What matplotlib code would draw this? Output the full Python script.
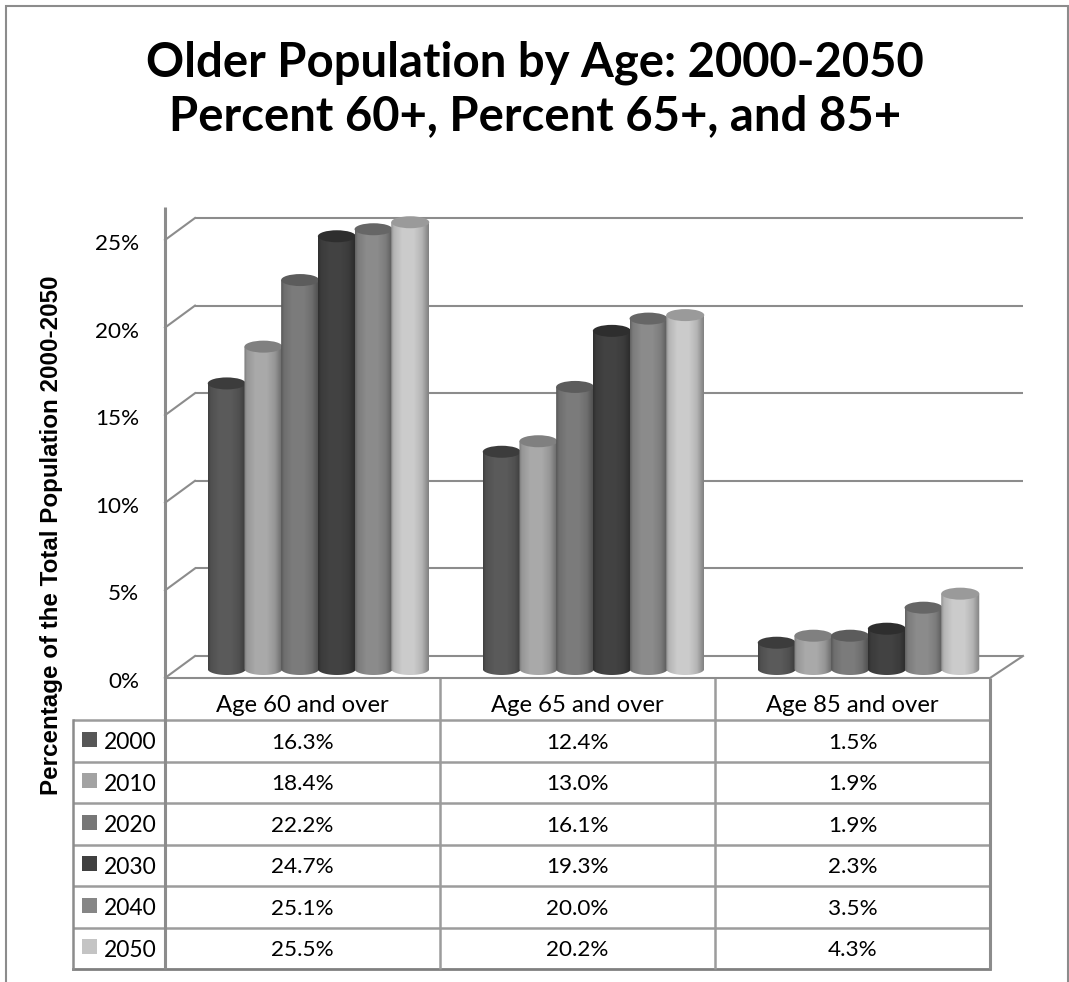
#!/usr/bin/env python3
import numpy as np
import matplotlib
matplotlib.use("Agg")
import matplotlib.pyplot as plt
from matplotlib.patches import Polygon, Ellipse, Rectangle

CATEGORIES = ["Age 60 and over", "Age 65 and over", "Age 85 and over"]
YEARS = ["2000", "2010", "2020", "2030", "2040", "2050"]
VALUES_2000 = [16.3, 12.4, 1.5]
VALUES_2010 = [18.4, 13.0, 1.9]
VALUES_2020 = [22.2, 16.1, 1.9]
VALUES_2030 = [24.7, 19.3, 2.3]
VALUES_2040 = [25.1, 20.0, 3.5]
VALUES_2050 = [25.5, 20.2, 4.3]
SERIES = [VALUES_2000, VALUES_2010, VALUES_2020, VALUES_2030, VALUES_2040, VALUES_2050]
Y_TICKS = [0, 5, 10, 15, 20, 25]

SHADES = ["#575757", "#a3a3a3", "#777777", "#404040", "#868686", "#c4c4c4"]
TOPS = ["#3c3c3c", "#808080", "#5c5c5c", "#2e2e2e", "#666666", "#9a9a9a"]
LINE = "#8c8c8c"

W, H = 1069, 982
PX_PCT = 17.52   # pixels per percentage point
PX_CAT = 275.0   # pixels per category
FLOOR_Y = 669    # pixel row of the 0% level under the cylinders

plt.rcParams["font.family"] = ["Lato", "DejaVu Sans"]


def shaded(hex_color):
    # left-to-right lighting across a cylinder
    base = np.array(matplotlib.colors.to_rgb(hex_color))
    t = np.linspace(0, 1, 64)
    f = np.interp(t, [0, 0.07, 0.3, 0.6, 0.82, 1], [0.74, 0.92, 1.04, 1.04, 0.92, 0.66])
    return np.clip(base[None, None, :] * f[None, :, None], 0, 1)


def draw_cylinder(ax, xc, value, width, color, top):
    rx = width / 2
    ry = 6 / PX_PCT
    ang = np.linspace(np.pi, 2 * np.pi, 40)
    bottom = np.column_stack([xc + rx * np.cos(ang), ry * np.sin(ang)])
    pts = np.vstack([bottom, [[xc + rx, value], [xc - rx, value]]])
    body = Polygon(pts, closed=True, transform=ax.transData, facecolor="none", edgecolor="none")
    ax.add_patch(body)
    im = ax.imshow(shaded(color), extent=[xc - rx, xc + rx, -ry, value], aspect="auto", zorder=3)
    im.set_clip_path(body)
    ax.add_patch(Ellipse((xc, value), width, 2 * ry, facecolor=top, edgecolor="none", zorder=3))


def main():
    fig = plt.figure(figsize=(W / 100, H / 100), dpi=100, facecolor="white")

    # pixel-space layer for the frame, title, and data table
    bg = fig.add_axes([0, 0, 1, 1])
    bg.set_xlim(0, W)
    bg.set_ylim(H, 0)
    bg.axis("off")

    bg.plot([5.5, 5.5, 1068, 1068], [H, 5.5, 5.5, H], color=LINE, lw=1.5, solid_joinstyle="miter")
    bg.text(535, 63, "Older Population by Age: 2000-2050", ha="center", va="center",
            fontsize=34, fontweight="bold", color="black")
    bg.text(535, 116, "Percent 60+, Percent 65+, and 85+", ha="center", va="center",
            fontsize=34, fontweight="bold", color="black")
    bg.text(52, 535, "Percentage of the Total Population 2000-2050", rotation=90,
            ha="center", va="center", fontsize=17.4, fontweight="bold",
            family=["Liberation Sans"], color="black")

    # table
    col_x = [165, 440, 715, 990]
    row_y = [720 + 41.5 * i for i in range(len(YEARS) + 1)]
    for y in row_y[:-1]:
        bg.plot([73, 990], [y, y], color="#9c9c9c", lw=1.8, solid_capstyle="butt")
    bg.plot([73, 990], [row_y[-1]] * 2, color="#808080", lw=2, solid_capstyle="projecting")
    bg.plot([73, 73], [row_y[0], row_y[-1]], color="#8c8c8c", lw=1.8)
    bg.plot([164.5, 164.5], [207, row_y[-1]], color=LINE, lw=2.2, solid_capstyle="butt")
    for x in col_x[1:3]:
        bg.plot([x, x], [678, row_y[-1]], color="#9c9c9c", lw=1.8, solid_capstyle="butt")
    bg.plot([990, 990], [678, row_y[-1]], color="#8c8c8c", lw=2.2, solid_capstyle="butt")

    for j, cat in enumerate(CATEGORIES):
        bg.text((col_x[j] + col_x[j + 1]) / 2, 704, cat, ha="center", va="center_baseline",
                fontsize=17.2, color="black")
    for i, year in enumerate(YEARS):
        cy = (row_y[i] + row_y[i + 1]) / 2
        bg.add_patch(Rectangle((82, cy - 9), 15, 15, facecolor=SHADES[i], edgecolor="none"))
        bg.text(104, cy, year, ha="left", va="center_baseline", fontsize=16.5, color="black")
        for j in range(len(CATEGORIES)):
            bg.text((col_x[j] + col_x[j + 1]) / 2, cy, f"{SERIES[i][j]:.1f}%",
                    ha="center", va="center_baseline", fontsize=16.2, color="black")

    # value layer: x is the category index, y is percent of population
    top_y = 207
    bottom_y = 695
    ax = fig.add_axes([165 / W, (H - bottom_y) / H, 825 / W, (bottom_y - top_y) / H])
    ax.patch.set_alpha(0)
    ax.axis("off")
    xlim = (-0.5, 2.5)
    ylim = ((FLOOR_Y - bottom_y) / PX_PCT, (FLOOR_Y - top_y) / PX_PCT)

    back_dx, back_dy = 30 / PX_CAT, 13 / PX_PCT
    front_dy = -9 / PX_PCT
    left, right = xlim
    for tick in Y_TICKS:
        ax.plot([left + back_dx, right + 33 / PX_CAT], [tick + back_dy] * 2, color=LINE, lw=1.5,
                clip_on=False, zorder=1, solid_capstyle="butt")
        ax.plot([left, left + back_dx], [tick + front_dy, tick + back_dy], color=LINE, lw=1.5,
                clip_on=False, zorder=1)
        ax.text(left - 26 / PX_CAT, tick + front_dy - 2 / PX_PCT, f"{tick}%", ha="right",
                va="center_baseline", fontsize=16.2, color="black", clip_on=False)
    # floor edge along the front and up the right side
    ax.plot([left, right, right + 33 / PX_CAT], [front_dy, front_dy, back_dy], color=LINE, lw=1.5,
            clip_on=False, zorder=1)

    spacing = 36.7 / PX_CAT
    width = 38 / PX_CAT
    shift = 16 / PX_CAT
    for j in range(len(CATEGORIES)):
        for i, vals in enumerate(SERIES):
            xc = j + shift + (i - 2.5) * spacing
            draw_cylinder(ax, xc, vals[j], width, SHADES[i], TOPS[i])

    ax.set_xlim(*xlim)
    ax.set_ylim(*ylim)

    fig.savefig("out.png", dpi=100)


if __name__ == "__main__":
    main()
